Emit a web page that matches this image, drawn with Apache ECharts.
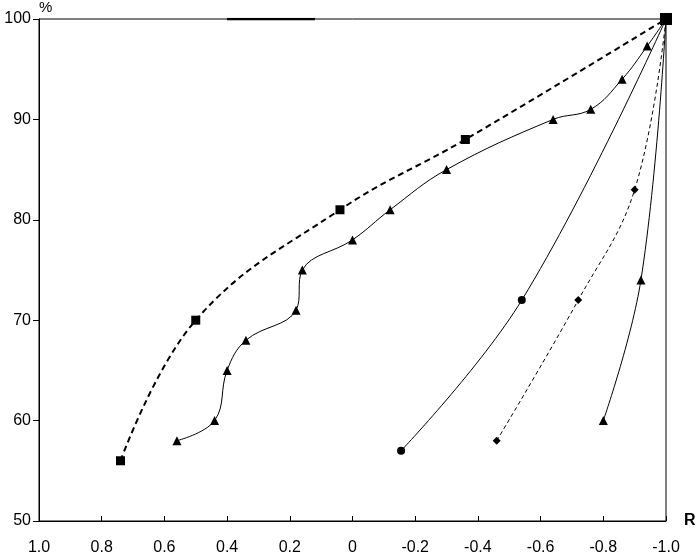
<!DOCTYPE html>
<html>
<head>
<meta charset="utf-8">
<script src="https://cdn.jsdelivr.net/npm/echarts@6/dist/echarts.min.js"></script>
<style>
  html, body { margin: 0; padding: 0; background: #fff; }
  #chart { width: 699px; height: 560px; }
</style>
</head>
<body>
<div id="chart"></div>
<script>
  // squares, thick dashed
  var sqX = [0.74, 0.5, 0.04, -0.36, -1.0]
  var sqY = [56, 70, 81, 88, 100]
  // triangles, long solid curve
  var triAX = [0.56, 0.44, 0.40, 0.34, 0.18, 0.16, 0.0, -0.12, -0.30, -0.64, -0.76, -0.86, -0.94, -1.0]
  var triAY = [58, 60, 65, 68, 71, 75, 78, 81, 85, 90, 91, 94, 97.3, 100]
  // circles, solid
  var circX = [-0.155, -0.54, -1.0]
  var circY = [57, 72, 100]
  // diamonds, thin dashed
  var diaX = [-0.46, -0.72, -0.9, -1.0]
  var diaY = [58, 72, 83, 100]
  // triangles, short solid
  var triBX = [-0.8, -0.92, -1.0]
  var triBY = [60, 74, 100]
  // heavier stretch on the 100% line
  var topX = [0.4, 0.12]
  var topY = [100, 100]

  function pairs(xs, ys) {
    return xs.map(function (x, i) { return [x, ys[i]] })
  }

  var font = 'Liberation Sans, Arial, sans-serif'
  var chart = echarts.init(document.getElementById('chart'))
  chart.setOption({
    animation: false,
    grid: {
      left: 39, right: 33, top: 18, bottom: 39,
      show: true, borderColor: '#000', borderWidth: 1
    },
    xAxis: {
      type: 'value',
      min: -1, max: 1, interval: 0.2,
      inverse: true,
      name: 'R',
      nameLocation: 'start',
      nameGap: 18,
      nameTextStyle: { color: '#000', fontFamily: font, fontSize: 16, fontWeight: 'bold' },
      axisLine: { onZero: false, lineStyle: { color: '#000', width: 1 } },
      axisTick: { inside: true, length: 5, lineStyle: { color: '#000' } },
      axisLabel: {
        color: '#000', fontFamily: font, fontSize: 16, margin: 19,
        formatter: function (v) { return Math.abs(v) < 1e-9 ? '0' : v.toFixed(1) }
      },
      splitLine: { show: false }
    },
    yAxis: {
      type: 'value',
      position: 'left',
      min: 50, max: 100, interval: 10,
      name: '%',
      nameLocation: 'end',
      nameGap: 4,
      nameTextStyle: { color: '#000', fontFamily: font, fontSize: 15, align: 'left' },
      axisLine: { show: true, onZero: false, lineStyle: { color: '#000', width: 1 } },
      axisTick: { show: true, length: 6, lineStyle: { color: '#000' } },
      axisLabel: { color: '#000', fontFamily: font, fontSize: 16, margin: 8 },
      splitLine: { show: false }
    },
    series: [
      {
        type: 'line', data: pairs(topX, topY), symbol: 'none',
        lineStyle: { color: '#000', width: 2.5 }
      },
      {
        type: 'line', data: pairs(triBX, triBY), smooth: 0.4,
        symbol: 'triangle', symbolSize: 9, itemStyle: { color: '#000' },
        lineStyle: { color: '#000', width: 1 }
      },
      {
        type: 'line', data: pairs(diaX, diaY), smooth: 0.4,
        symbol: 'diamond', symbolSize: 8, itemStyle: { color: '#000' },
        lineStyle: { color: '#000', width: 1, type: [4, 3] }
      },
      {
        type: 'line', data: pairs(circX, circY), smooth: 0.4,
        symbol: 'circle', symbolSize: 8, itemStyle: { color: '#000' },
        lineStyle: { color: '#000', width: 1 }
      },
      {
        type: 'line', data: pairs(triAX, triAY), smooth: 0.4,
        symbol: 'triangle', symbolSize: 9, itemStyle: { color: '#000' },
        lineStyle: { color: '#000', width: 1 }
      },
      {
        type: 'line', data: pairs(sqX, sqY), smooth: 0.4,
        symbol: 'rect',
        symbolSize: function (v, p) { return p.dataIndex === sqX.length - 1 ? 12 : 9 },
        itemStyle: { color: '#000' },
        lineStyle: { color: '#000', width: 2, type: [6, 4] },
        z: 5
      }
    ]
  })
</script>
</body>
</html>
